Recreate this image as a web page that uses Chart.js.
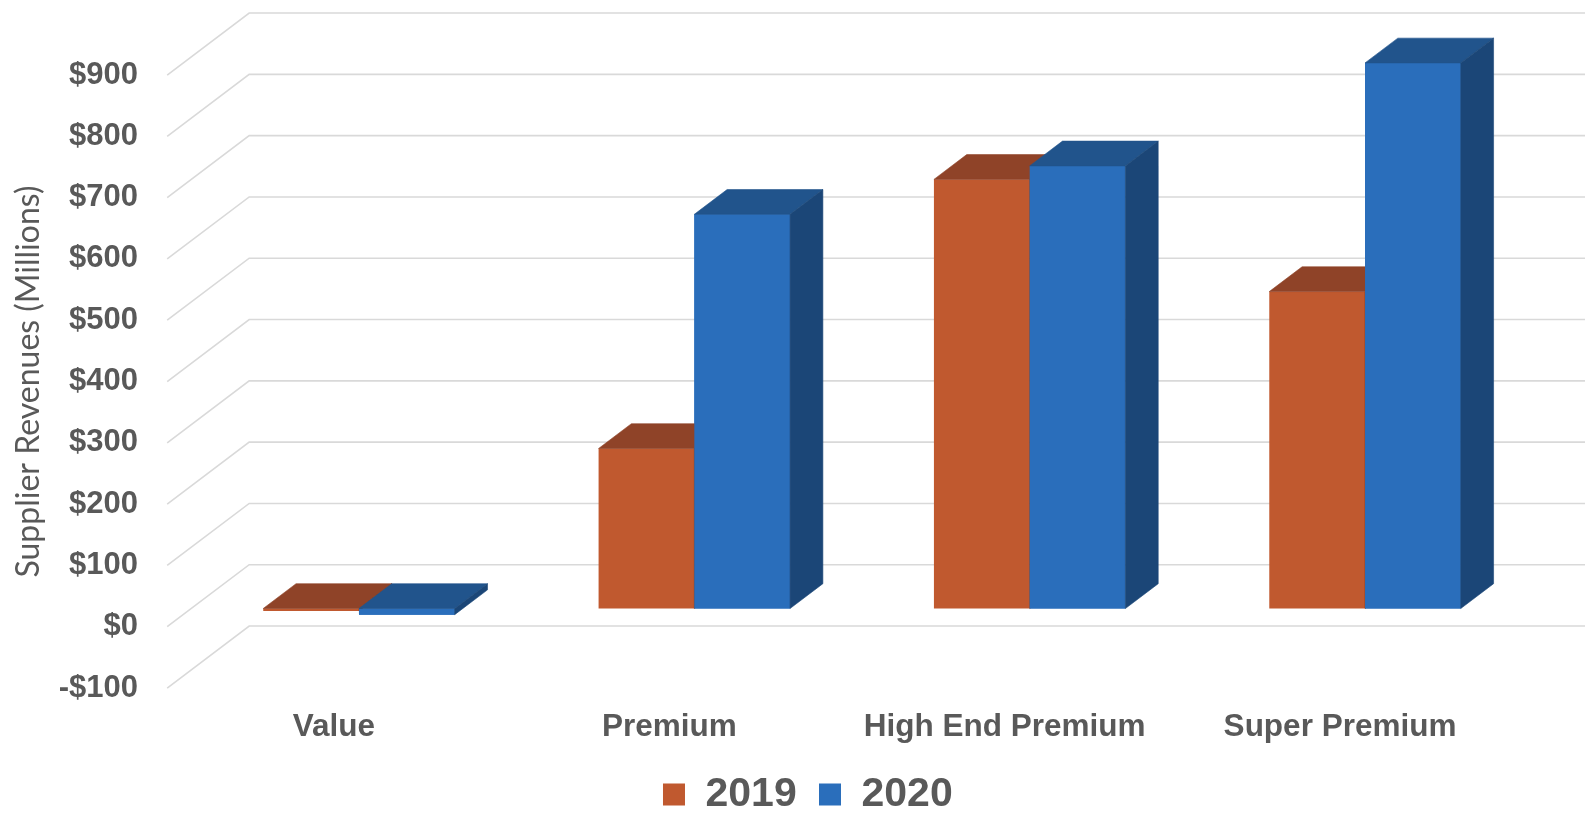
<!DOCTYPE html>
<html><head><meta charset="utf-8">
<script src="https://cdn.jsdelivr.net/npm/chart.js@4.4.0/dist/chart.umd.min.js"></script>
<style>html,body{margin:0;padding:0;background:#fff;overflow:hidden}</style>
</head><body>
<canvas id="c" width="1585" height="814"></canvas>
<script>
const categories = ['Value', 'Premium', 'High End Premium', 'Super Premium'];
const seriesNames = ['2019', '2020'];
const values2019 = [-4, 261, 700, 517];
const values2020 = [-10, 643, 722, 890];
const yMin = -100, yMax = 900, yStep = 100;
const axisTitle = 'Supplier Revenues (Millions)';

const FRONT = ['#C0592F', '#2A6EBB'];
const TOP = ['#8F4328', '#21548C'];
const SIDE = ['#7A3920', '#1B4677'];
const DX = 82, DY = -62, BAR_FRONT = 0.294, BAR_DEPTH = 0.4;
const TEXT = '#595959';

function poly(ctx, pts, color) {
  ctx.beginPath();
  ctx.moveTo(pts[0][0], pts[0][1]);
  for (let i = 1; i < pts.length; i++) ctx.lineTo(pts[i][0], pts[i][1]);
  ctx.closePath();
  ctx.fillStyle = color; ctx.fill();
  ctx.strokeStyle = color; ctx.lineWidth = 0.6; ctx.stroke();
}

const threeD = {
  id: 'threeD',
  beforeDatasetsDraw(chart) {
    const ctx = chart.ctx, y = chart.scales.y, area = chart.chartArea;
    const fx = area.left - BAR_FRONT * DX, fyOff = -BAR_FRONT * DY;
    ctx.save();
    ctx.strokeStyle = '#D9D9D9'; ctx.lineWidth = 1.6;
    y.ticks.forEach(t => {
      const yf = y.getPixelForValue(t.value) + fyOff;
      ctx.beginPath();
      ctx.moveTo(fx, yf);
      ctx.lineTo(fx + DX, yf + DY);
      ctx.lineTo(chart.width, yf + DY);
      ctx.stroke();
    });
    ctx.restore();
  },
  afterDatasetsDraw(chart) {
    const ctx = chart.ctx;
    const dx = BAR_DEPTH * DX, dy = BAR_DEPTH * DY;
    ctx.save();
    chart.data.datasets.forEach((ds, di) => {
      const meta = chart.getDatasetMeta(di);
      meta.data.forEach(bar => {
        if (di > 0) bar.draw(ctx);
        const p = bar.getProps(['x', 'y', 'base', 'width'], true);
        const L = p.x - p.width / 2, R = p.x + p.width / 2;
        const T = Math.min(p.y, p.base), B = Math.max(p.y, p.base);
        poly(ctx, [[L, T], [R, T], [R + dx, T + dy], [L + dx, T + dy]], TOP[di]);
        poly(ctx, [[R, T], [R + dx, T + dy], [R + dx, B + dy], [R, B]], SIDE[di]);
      });
    });
    ctx.restore();
  },
  afterDraw(chart) {
    const ctx = chart.ctx, y = chart.scales.y;
    const cy = (y.getPixelForValue(yMin) + y.getPixelForValue(yMax)) / 2 - BAR_FRONT * DY;
    ctx.save();
    ctx.translate(29, cy);
    ctx.rotate(-Math.PI / 2);
    ctx.textAlign = 'center'; ctx.textBaseline = 'middle';
    ctx.fillStyle = TEXT;
    ctx.font = '32px Lato, "Open Sans", sans-serif';
    ctx.fillText(axisTitle, 0, 0);
    ctx.restore();
  }
};

new Chart(document.getElementById('c'), {
  type: 'bar',
  data: {
    labels: categories,
    datasets: [
      { label: seriesNames[0], data: values2019, backgroundColor: FRONT[0], borderWidth: 0 },
      { label: seriesNames[1], data: values2020, backgroundColor: FRONT[1], borderWidth: 0 }
    ]
  },
  options: {
    responsive: false,
    animation: false,
    devicePixelRatio: 1,
    categoryPercentage: 0.571,
    barPercentage: 1,
    layout: { padding: { left: 83, right: 52.3, top: 56.8, bottom: -11 } },
    scales: {
      x: {
        grid: { display: false, drawTicks: false },
        border: { display: false },
        ticks: {
          color: TEXT, padding: 38.3, labelOffset: -25, maxRotation: 0, autoSkip: false,
          font: { family: '"Liberation Sans", Arial, sans-serif', weight: 'bold', size: 31.5 }
        },
        afterFit(s) { s.height = 81.9; }
      },
      y: {
        min: yMin, max: yMax,
        grid: { display: false, drawTicks: false },
        border: { display: false },
        ticks: {
          stepSize: yStep, color: TEXT, padding: 53.3, labelOffset: 18.2,
          font: { family: '"Liberation Sans", Arial, sans-serif', weight: 'bold', size: 31 },
          callback: v => (v < 0 ? '-$' : '$') + Math.abs(v)
        },
        afterFit(s) {
          s.width = 108.3;
          s.paddingTop = 0; s.paddingBottom = 0;
          s._computeLabelArea = () => undefined;
        }
      }
    },
    plugins: {
      legend: {
        position: 'bottom',
        labels: {
          boxWidth: 22, boxHeight: 22, padding: 22.3, color: TEXT,
          font: { family: '"Liberation Sans", Arial, sans-serif', weight: 'bold', size: 41 }
        }
      },
      tooltip: { enabled: false }
    }
  },
  plugins: [threeD]
});
</script>
</body></html>
